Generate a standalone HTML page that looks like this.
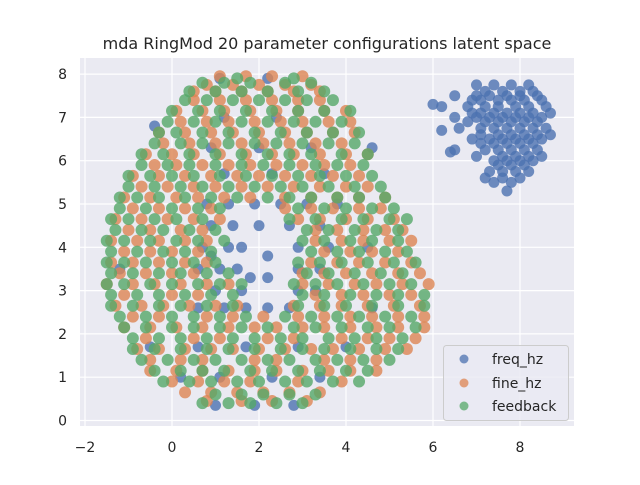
<!DOCTYPE html>
<html><head><meta charset="utf-8"><style>
body{margin:0;background:#fff;}
svg text{font-family:"DejaVu Sans","Liberation Sans",sans-serif;fill:#262626;}
</style></head><body>
<svg id="chart" width="640" height="480" xmlns="http://www.w3.org/2000/svg">
<rect x="0" y="0" width="640" height="480" fill="#fff"/>
<rect x="80" y="58" width="494" height="368" fill="#EAEAF2"/>
<g id="grid"></g>
<g id="points"></g>
<g id="ticks"></g>
<text x="327" y="49" text-anchor="middle" font-size="16">mda RingMod 20 parameter configurations latent space</text>
<g>
<rect x="443.5" y="345.5" width="125" height="75" rx="3" fill="#EAEAF2" fill-opacity="0.8" stroke="#cccccc"/>
<circle cx="464" cy="359" r="4.5" fill="#4C72B0" fill-opacity="0.75"/>
<text x="492" y="364" font-size="14">freq_hz</text>
<circle cx="464" cy="383" r="4.5" fill="#DD8452" fill-opacity="0.75"/>
<text x="492" y="388" font-size="14">fine_hz</text>
<circle cx="464" cy="406" r="4.5" fill="#55A868" fill-opacity="0.75"/>
<text x="492" y="411" font-size="14">feedback</text>
</g>
</svg>
<script>
const xTicks=[-2,0,2,4,6,8];
const yTicks=[0,1,2,3,4,5,6,7,8];
const blueRows=[
[0.35,1.0,1.9,2.8],[1.0,0.2,1.1,2.3,3.4],[1.7,-0.5,0.6,1.7,2.9,4.0],
[2.6,0.6,1.2,1.7,2.2,2.7,4.6],[3.0,1.0,1.6,2.9,3.3],[3.5,-1.2,0.6,1.1,1.5,2.9,3.4],
[3.3,1.8,2.2],[3.8,0.9,2.2],
[4.0,0.7,1.3,1.6,2.9,3.6,4.5],[4.5,0.9,1.4,2.0,2.7,3.4],[5.0,0.8,1.3,1.9,2.5,3.1,3.8],
[5.7,1.2,2.3,3.5],[6.3,0.9,2.0,3.2,4.6],[6.8,-0.4],[7.0,1.2,2.4],[7.9,1.1,2.2],
[7.75,7.0,7.4,7.8,8.2],[7.5,6.5,7.0,7.3,7.7,8.0,8.4],[7.3,6.0],
[7.25,6.2,6.8,7.2,7.5,7.9,8.2,8.6],[7.0,6.5,7.0,7.3,7.6,7.9,8.2,8.5],
[6.75,6.6,7.1,7.4,7.7,8.0,8.3,8.6],[6.7,6.2],[6.5,6.9,7.3,7.6,7.9,8.2,8.5],
[6.25,6.5,7.2,7.5,7.8,8.1,8.4],[6.2,6.4],[6.0,7.4,7.7,8.0,8.3],
[5.75,7.3,7.6,7.9,8.2],[5.5,7.4,7.8],[5.3,7.7],
[7.6,7.2,7.6,8.0,8.3],[7.4,6.9,7.1,7.5,7.8,8.1,8.5],[7.1,6.9,7.1,7.4,7.7,8.0,8.3,8.7],
[6.9,6.8,7.2,7.5,7.8,8.1,8.4],[6.6,7.1,7.5,7.8,8.1,8.4,8.7],[6.4,7.1,7.4,7.7,8.0,8.3],
[6.1,7.0,7.6,7.9,8.2,8.5],[5.9,7.5,7.8,8.1],[5.6,7.2,7.6,8.0]
];
const orangeRows=[
[0.65,0.3,0.9,1.5,2.1,2.7,3.4],[1.15,-0.5,0.1,0.7,1.3,1.9,2.4,3.0,3.6,4.1,4.7],
[1.65,-0.8,-0.3,0.3,0.9,1.4,2.0,2.6,3.2,3.7,4.3,4.9,5.4],
[2.15,-1.1,-0.5,0.1,0.7,1.3,1.9,2.4,3.0,3.5,4.1,4.7,5.2,5.8],
[2.65,-1.3,-0.7,-0.2,0.4,1.0,1.5,2.8,3.4,3.9,4.5,5.1,5.7],
[3.15,-1.5,-0.9,-0.4,0.2,0.8,1.3,3.0,3.6,4.2,4.7,5.3,5.9],
[3.65,-1.4,-0.9,-0.3,0.3,0.8,3.2,3.8,4.3,4.9,5.5],
[4.15,-1.4,-0.8,-0.3,0.3,0.8,3.3,3.9,4.4,5.0,5.5],
[4.65,-1.3,-0.7,-0.1,0.5,1.1,2.9,3.4,4.0,4.5,5.1],
[5.15,-1.1,-0.5,0.1,0.6,1.2,1.8,2.6,3.2,3.8,4.3,4.9],
[5.65,-0.9,-0.3,0.3,0.9,1.5,2.0,2.6,3.2,3.7,4.3],
[6.15,-0.6,0.0,0.5,1.1,1.7,2.3,2.8,3.4,4.0,4.5],
[6.65,-0.3,0.3,0.9,1.4,2.0,2.6,3.1,3.7,4.2],
[7.15,0.1,0.7,1.2,1.8,2.4,2.9,3.5,4.0],
[7.6,0.5,1.0,1.6,2.2,2.8,3.4],[7.95,1.1,1.7,2.3,3.0],
[0.45,0.8,1.6,2.3,3.1],[0.9,0.0,0.6,1.2,1.8,2.9,3.9],
[1.4,-0.5,0.2,0.7,1.9,2.4,3.5,4.1,4.7],[1.9,-0.6,0.5,1.1,2.2,2.8,3.9,4.5,5.0,5.6],
[2.4,-0.9,-0.3,0.8,1.4,2.1,2.9,3.5,4.1,4.6,5.2,5.8],[2.9,-1.1,0.0,0.6,3.3,3.9,4.4,5.0,5.5],
[3.4,-1.2,-0.6,0.0,0.5,3.0,3.5,4.0,4.6,5.2,5.7],[3.9,-1.1,-0.5,0.0,0.6,3.5,4.1,4.6,5.2],
[4.4,-1.0,-0.5,0.2,0.7,3.3,3.8,4.4,4.9,5.3],[4.9,-0.9,-0.3,0.3,0.9,2.6,3.2,3.7,4.3,4.8],
[5.4,-0.7,-0.1,0.5,1.0,1.6,2.2,2.8,3.4,4.0,4.5],[5.9,-0.4,0.1,0.7,1.3,1.8,2.4,3.0,3.5,4.1],
[6.4,-0.2,0.4,1.0,1.6,2.1,2.7,3.3,3.9],[6.9,0.2,0.8,1.3,1.9,2.5,3.0,3.6,4.1],
[7.4,0.5,1.1,1.7,2.3,2.9,3.4],[7.75,0.8,1.4,2.0,2.6,3.2]
];
const greenRows=[
[0.4,0.7,1.3,1.8,2.4,3.0],[0.9,-0.2,0.4,0.9,1.5,2.0,2.6,3.1,3.7,4.3],
[1.4,-0.7,-0.1,0.5,1.0,1.6,2.2,2.7,3.3,3.8,4.4,5.0],
[1.9,-0.9,-0.3,0.2,0.8,1.4,1.9,2.5,3.0,3.6,4.2,4.7,5.3],
[2.4,-1.2,-0.6,0.0,0.5,1.1,1.7,2.6,3.2,3.8,4.3,4.9,5.5],
[2.9,-1.4,-0.8,-0.3,0.3,0.9,1.4,3.0,3.5,4.1,4.7,5.2,5.8],
[3.4,-1.4,-0.9,-0.3,0.2,0.8,1.3,3.1,3.6,4.2,4.8,5.3],
[3.9,-1.4,-0.8,-0.2,0.3,0.9,3.2,3.8,4.3,4.9,5.4],
[4.4,-1.3,-0.7,-0.2,0.4,1.0,3.1,3.6,4.2,4.7,5.2],
[4.9,-1.2,-0.6,0.0,0.6,1.1,2.9,3.5,4.0,4.6,5.1],
[5.4,-1.0,-0.4,0.2,0.7,1.3,1.9,2.5,3.0,3.6,4.2,4.8],
[5.9,-0.7,-0.1,0.4,1.0,1.6,2.1,2.7,3.3,3.8,4.4],
[6.4,-0.4,0.2,0.7,1.3,1.9,2.4,3.0,3.6,4.2],
[6.9,-0.1,0.5,1.0,1.6,2.2,2.8,3.3,3.9],
[7.4,0.3,0.8,1.4,2.0,2.6,3.1,3.7],[7.8,0.7,1.2,1.8,2.6,3.2],
[0.6,1.0,1.6,2.1,2.7,3.3],[1.15,-0.4,0.2,0.7,1.2,1.8,2.3,2.9,3.4,4.0,4.5],
[1.65,-0.9,-0.4,0.2,0.8,1.3,1.9,2.5,3.0,3.5,4.1,4.7,5.2],
[2.15,-1.1,-0.6,0.0,0.5,1.1,1.6,2.2,2.8,3.3,3.9,4.5,5.0,5.6],
[2.65,-1.4,-0.9,-0.3,0.2,0.8,1.4,2.9,3.5,4.0,4.6,5.2,5.8],
[3.15,-1.5,-1.1,-0.5,0.0,0.6,1.1,1.6,2.8,3.3,3.8,4.4,5.0,5.5],
[3.65,-1.5,-1.1,-0.6,0.0,0.5,1.0,2.9,3.4,3.9,4.5,5.1,5.6],
[4.15,-1.5,-1.1,-0.5,0.1,0.6,1.2,3.0,3.5,4.1,4.6,5.2],
[4.65,-1.4,-1.0,-0.4,0.1,0.7,2.7,3.3,3.9,4.4,5.0,5.4],
[5.15,-1.2,-0.8,-0.3,0.3,0.9,1.5,2.2,2.7,3.2,3.8,4.3,4.9],
[5.65,-1.0,-0.5,0.0,0.5,1.1,1.7,2.3,2.9,3.4,4.0,4.6],
[6.15,-0.7,-0.2,0.4,1.0,1.6,2.2,2.7,3.2,3.9,4.5],
[6.65,-0.3,0.1,0.7,1.3,1.9,2.5,3.1,3.7,4.3],
[7.15,0.0,0.6,1.1,1.7,2.3,2.9,3.5,4.1],
[7.6,0.4,1.0,1.6,2.2,2.9,3.5],[7.9,1.5,2.8]
];
const NS='http://www.w3.org/2000/svg';
function sx(v){return 172+v*43.5;}
function sy(v){return 420.5-v*43.3;}
const grid=document.getElementById('grid'),ticks=document.getElementById('ticks'),pts=document.getElementById('points');
xTicks.forEach(t=>{
  const l=document.createElementNS(NS,'line');
  l.setAttribute('x1',sx(t));l.setAttribute('x2',sx(t));l.setAttribute('y1',58);l.setAttribute('y2',426);
  l.setAttribute('stroke','#fff');l.setAttribute('stroke-width','1.2');
  
  
  grid.appendChild(l);
  const tx=document.createElementNS(NS,'text');
  tx.setAttribute('x',sx(t));tx.setAttribute('y',452);tx.setAttribute('text-anchor','middle');tx.setAttribute('font-size','14');
  tx.textContent=t<0?'\u2212'+(-t):String(t);
  
  
  ticks.appendChild(tx);
});
yTicks.forEach(t=>{
  const l=document.createElementNS(NS,'line');
  l.setAttribute('x1',80);l.setAttribute('x2',574);l.setAttribute('y1',sy(t));l.setAttribute('y2',sy(t));
  l.setAttribute('stroke','#fff');l.setAttribute('stroke-width','1.2');
  
  
  grid.appendChild(l);
  const tx=document.createElementNS(NS,'text');
  tx.setAttribute('x',67);tx.setAttribute('y',sy(t)+5);tx.setAttribute('text-anchor','end');tx.setAttribute('font-size','14');
  tx.textContent=String(t);
  
  
  ticks.appendChild(tx);
});
function drawRows(rows,color,name,rad){
  rows.forEach(r=>{
    for(let i=1;i<r.length;i++){
      const c=document.createElementNS(NS,'circle');
      c.setAttribute('cx',sx(r[i]));c.setAttribute('cy',sy(r[0]));c.setAttribute('r',rad);
      c.setAttribute('fill',color);c.setAttribute('fill-opacity','0.8');
      
      
      pts.appendChild(c);
    }
  });
}
drawRows(blueRows,'#4C72B0','freq-hz-point',5.5);
drawRows(orangeRows,'#DD8452','fine-hz-point',6);
drawRows(greenRows,'#55A868','feedback-point',6);
</script>
</body></html>
